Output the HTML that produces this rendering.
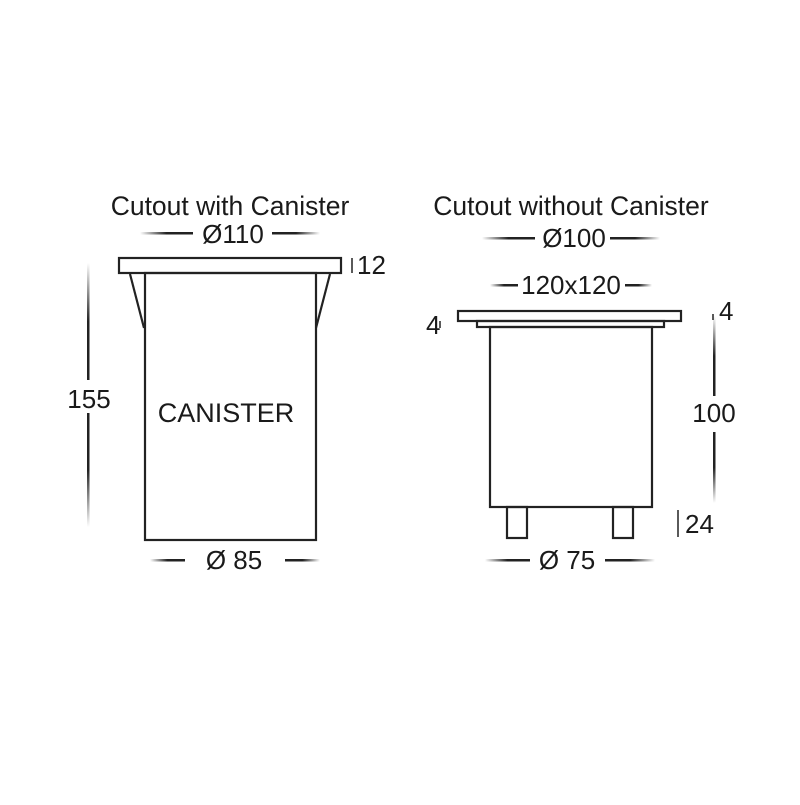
<!DOCTYPE html>
<html><head><style>
html,body{margin:0;padding:0;background:#fff;}
svg text{font-family:"Liberation Sans",Arial,sans-serif;fill:#1a1a1a;}
</style></head><body>
<svg width="800" height="800" viewBox="0 0 800 800" xmlns="http://www.w3.org/2000/svg">
<defs>
<linearGradient id="gh" x1="0" x2="1" y1="0" y2="0"><stop offset="0" stop-color="#fff"/><stop offset="0.5" stop-color="#222"/><stop offset="1" stop-color="#222"/></linearGradient>
<linearGradient id="gh2" x1="0" x2="1" y1="0" y2="0"><stop offset="0" stop-color="#222"/><stop offset="0.5" stop-color="#222"/><stop offset="1" stop-color="#fff"/></linearGradient>
<linearGradient id="gv" x1="0" x2="0" y1="0" y2="1"><stop offset="0" stop-color="#fff"/><stop offset="0.5" stop-color="#222"/><stop offset="1" stop-color="#222"/></linearGradient>
<linearGradient id="gv2" x1="0" x2="0" y1="0" y2="1"><stop offset="0" stop-color="#222"/><stop offset="0.5" stop-color="#222"/><stop offset="1" stop-color="#fff"/></linearGradient>
</defs>
<g font-size="26">
<text x="230" y="215" text-anchor="middle" font-size="26.5">Cutout with Canister</text>
<text x="571" y="215" text-anchor="middle" font-size="26.5">Cutout without Canister</text>
<text x="233" y="243" text-anchor="middle">Ø110</text>
<text x="574" y="247" text-anchor="middle">Ø100</text>
<text x="571" y="294" text-anchor="middle">120x120</text>
<text x="89" y="408" text-anchor="middle">155</text>
<text x="226" y="422" text-anchor="middle" font-size="27">CANISTER</text>
<text x="234" y="569" text-anchor="middle">Ø 85</text>
<text x="567" y="569" text-anchor="middle">Ø 75</text>
<text x="714" y="422" text-anchor="middle">100</text>
<text x="357" y="274">12</text>
<text x="719" y="320">4</text>
<text x="426" y="334">4</text>
<text x="685" y="533">24</text>
</g>
<g>
<rect x="140" y="232" width="53" height="2.5" fill="url(#gh)"/>
<rect x="272" y="232" width="48" height="2.5" fill="url(#gh2)"/>
<rect x="482" y="237" width="53" height="2.5" fill="url(#gh)"/>
<rect x="610" y="237" width="50" height="2.5" fill="url(#gh2)"/>
<rect x="490" y="284" width="28" height="2.5" fill="url(#gh)"/>
<rect x="625" y="284" width="27" height="2.5" fill="url(#gh2)"/>
<rect x="150" y="559" width="35" height="2.5" fill="url(#gh)"/>
<rect x="285" y="559" width="35" height="2.5" fill="url(#gh2)"/>
<rect x="485" y="559" width="45" height="2.5" fill="url(#gh)"/>
<rect x="605" y="559" width="50" height="2.5" fill="url(#gh2)"/>
<rect x="87" y="263" width="2.5" height="117" fill="url(#gv)"/>
<rect x="87" y="413" width="2.5" height="114" fill="url(#gv2)"/>
<rect x="713" y="316" width="2.5" height="80" fill="url(#gv)"/>
<rect x="713" y="432" width="2.5" height="71" fill="url(#gv2)"/>
</g>
<g stroke="#222" stroke-width="1.5">
<line x1="352" y1="258" x2="352" y2="273"/>
<line x1="678" y1="510" x2="678" y2="537"/>
<line x1="440" y1="321" x2="440" y2="328"/>
<line x1="713" y1="314" x2="713" y2="320"/>
</g>
<g fill="none" stroke="#222" stroke-width="2.2">
<rect x="119" y="258" width="222" height="15"/>
<rect x="145" y="273" width="171" height="267"/>
<polyline points="130,274 144,328"/>
<polyline points="330,274 316,328"/>
<rect x="458" y="311" width="223" height="10"/>
<rect x="477" y="321" width="187" height="6"/>
<rect x="490" y="327" width="162" height="180"/>
<rect x="507" y="507" width="20" height="31"/>
<rect x="613" y="507" width="20" height="31"/>
</g>
</svg>
</body></html>
